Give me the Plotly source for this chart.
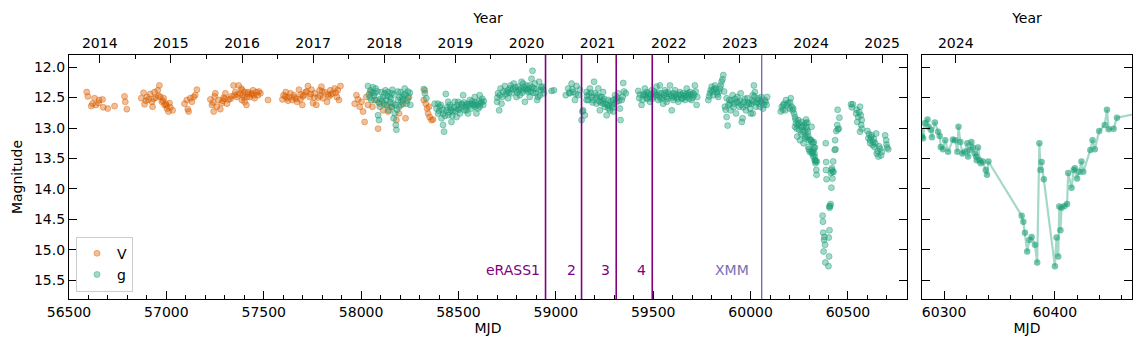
import numpy as np
import plotly.graph_objects as go

# ---- V band (ASAS-SN) ----
v14_mjd = [56591, 56597, 56614, 56621, 56631, 56638, 56652, 56655, 56672, 56676, 56699, 56734, 56785, 56789, 56797]
v14_mag = [12.41, 12.48, 12.64, 12.60, 12.51, 12.62, 12.59, 12.54, 12.53, 12.66, 12.68, 12.64, 12.48, 12.57, 12.69]

v15_mjd = [56871, 56883, 56888, 56895, 56900, 56909, 56917, 56926, 56929, 56935, 56939, 56946, 56956, 56960, 56964,
           56969, 56977, 56982, 56986, 56991, 56997, 57000, 57003, 57011, 57016, 57020, 57032,
           57093, 57105, 57110, 57114, 57123, 57131, 57140, 57148, 57157]
v15_mag = [12.51, 12.42, 12.61, 12.55, 12.49, 12.53, 12.44, 12.57, 12.65, 12.52, 12.41, 12.50, 12.38, 12.47, 12.30,
           12.49, 12.57, 12.55, 12.51, 12.62, 12.60, 12.63, 12.68, 12.73, 12.59, 12.66, 12.71,
           12.60, 12.54, 12.69, 12.73, 12.51, 12.57, 12.49, 12.46, 12.37]

v16_mjd = [57226, 57234, 57240, 57243, 57248, 57251, 57259, 57268, 57277, 57285, 57290, 57294, 57300, 57303, 57311,
           57320, 57330, 57333, 57345, 57350, 57354, 57362, 57365, 57371, 57380, 57385, 57388, 57390, 57393, 57398,
           57402, 57402, 57411, 57414, 57419, 57420, 57428, 57436, 57440, 57445, 57450, 57453, 57462, 57470, 57475,
           57483, 57522]
v16_mag = [12.53, 12.62, 12.58, 12.73, 12.48, 12.43, 12.65, 12.54, 12.69, 12.59, 12.55, 12.50, 12.52, 12.43, 12.60,
           12.53, 12.52, 12.48, 12.30, 12.46, 12.41, 12.49, 12.45, 12.30, 12.43, 12.35, 12.54, 12.38, 12.46, 12.50,
           12.41, 12.57, 12.62, 12.49, 12.41, 12.44, 12.49, 12.43, 12.45, 12.38, 12.46, 12.51, 12.41, 12.46, 12.40,
           12.43, 12.54]

v17_mjd = [57596, 57602, 57610, 57613, 57619, 57625, 57630, 57637, 57647, 57655, 57659, 57665, 57671, 57681, 57688,
           57690, 57698, 57700, 57705, 57715, 57720, 57727, 57736, 57740, 57745, 57753, 57760, 57762, 57770, 57779,
           57787, 57790, 57796, 57800, 57804, 57813, 57825, 57830, 57835, 57842, 57845, 57853, 57864, 57870, 57876,
           57880, 57886, 57894]
v17_mag = [12.53, 12.46, 12.48, 12.41, 12.51, 12.55, 12.49, 12.43, 12.54, 12.46, 12.50, 12.52, 12.57, 12.37, 12.53,
           12.45, 12.62, 12.48, 12.46, 12.41, 12.40, 12.31, 12.49, 12.44, 12.37, 12.59, 12.50, 12.43, 12.62, 12.50,
           12.38, 12.47, 12.32, 12.40, 12.51, 12.41, 12.57, 12.45, 12.48, 12.38, 12.45, 12.43, 12.35, 12.42, 12.49,
           12.38, 12.54, 12.31]

v18_mjd = [57967, 57976, 57984, 57993, 58002, 58010, 58018, 58027, 58035, 58048, 58058, 58070, 58087, 58096, 58113,
           58126, 58138, 58156, 58181, 58195, 58215, 58228, 58241,
           58322, 58327, 58332, 58339, 58344, 58349, 58352, 58361, 58369]
v18_mag = [12.60, 12.46, 12.53, 12.65, 12.57, 12.73, 12.90, 12.49, 12.62, 12.41, 12.65, 12.54, 13.01, 12.60, 12.71,
           12.62, 12.73, 12.65, 12.87, 12.76, 12.60, 12.84, 12.51,
           12.54, 12.38, 12.60, 12.68, 12.76, 12.65, 12.82, 12.87, 12.86]

# ---- g band (ASAS-SN) ----
g18_mjd = [58035, 58040, 58045, 58048, 58053, 58058, 58061, 58066, 58070, 58075, 58079, 58083, 58087, 58090, 58092,
           58096, 58100, 58104, 58108, 58113, 58118, 58121, 58125, 58130, 58133, 58135, 58138, 58143, 58147, 58150,
           58152, 58156, 58158, 58160, 58164, 58167, 58170, 58173, 58176, 58178, 58181, 58185, 58188, 58190, 58195,
           58198, 58202, 58205, 58208, 58212, 58215, 58218, 58224, 58228, 58233, 58236, 58240, 58246, 58250, 58253]
g18_mag = [12.31, 12.45, 12.50, 12.38, 12.54, 12.42, 12.33, 12.47, 12.43, 12.35, 12.54, 12.40, 12.79, 12.58, 12.87,
           12.65, 12.52, 12.41, 12.55, 12.49, 12.60, 12.43, 12.38, 12.54, 12.62, 12.47, 12.41, 12.71, 12.49, 12.58,
           12.52, 12.43, 12.66, 12.37, 12.60, 12.84, 12.45, 12.76, 12.62, 12.95, 13.03, 12.70, 12.40, 12.54, 12.65,
           12.50, 12.41, 12.62, 12.56, 12.49, 12.53, 12.45, 12.35, 12.45, 12.60, 12.55, 12.40, 12.49, 12.42, 12.62]

g19_mjd = [58322, 58327, 58335, 58378, 58387, 58395, 58395, 58400, 58404, 58410, 58413, 58418, 58421, 58421, 58426,
           58430, 58435, 58438, 58442, 58447, 58447, 58452, 58455, 58460, 58464, 58464, 58468, 58472, 58477, 58481,
           58485, 58490, 58494, 58498, 58498, 58503, 58507, 58511, 58515, 58520, 58524, 58528, 58532, 58537, 58541,
           58541, 58545, 58549, 58553, 58558, 58562, 58567, 58571, 58575, 58580, 58584, 58584, 58588, 58592, 58596,
           58601, 58605, 58609, 58609, 58613, 58618, 58622, 58627, 58630]
g19_mag = [12.36, 12.43, 12.51, 12.60, 12.68, 12.76, 12.60, 12.72, 12.65, 12.62, 12.84, 12.70, 12.95, 12.76, 13.06,
           12.80, 12.44, 12.71, 12.66, 12.79, 12.57, 12.74, 12.62, 12.66, 12.90, 12.71, 12.80, 12.73, 12.66, 12.57,
           12.72, 12.82, 12.62, 12.68, 12.57, 12.70, 12.76, 12.66, 12.60, 12.62, 12.46, 12.58, 12.71, 12.66, 12.62,
           12.71, 12.60, 12.76, 12.64, 12.54, 12.60, 12.68, 12.56, 12.60, 12.62, 12.49, 12.65, 12.58, 12.76, 12.62,
           12.68, 12.56, 12.46, 12.65, 12.60, 12.57, 12.52, 12.62, 12.56]

g20_mjd = [58698, 58700, 58703, 58709, 58712, 58716, 58721, 58726, 58730, 58738, 58742, 58747, 58755, 58755, 58760,
           58764, 58768, 58773, 58778, 58784, 58790, 58795, 58798, 58802, 58806, 58810, 58815, 58820, 58824, 58828,
           58832, 58832, 58836, 58841, 58845, 58849, 58853, 58858, 58862, 58866, 58866, 58870, 58875, 58878, 58880,
           58884, 58887, 58892, 58897, 58900, 58904, 58909, 58914, 58918, 58921, 58925, 58932, 58935, 58938]
g20_mag = [12.57, 12.50, 12.43, 12.71, 12.46, 12.35, 12.60, 12.49, 12.40, 12.31, 12.45, 12.41, 12.51, 12.38, 12.42,
           12.35, 12.30, 12.43, 12.36, 12.27, 12.33, 12.38, 12.49, 12.42, 12.32, 12.38, 12.46, 12.35, 12.24, 12.42,
           12.38, 12.27, 12.33, 12.57, 12.36, 12.30, 12.38, 12.41, 12.35, 12.49, 12.30, 12.40, 12.19, 12.33, 12.06,
           12.42, 12.35, 12.27, 12.43, 12.36, 12.54, 12.49, 12.24, 12.46, 12.38, 12.33, 12.32, 12.37, 12.43]

g21_mjd = [58978, 58990, 59051, 59063, 59068, 59072, 59081, 59085, 59089, 59098, 59102, 59106, 59115, 59123, 59132,
           59136, 59140, 59149, 59158, 59158, 59160, 59166, 59170, 59175, 59180, 59184, 59188, 59192, 59196, 59201,
           59205, 59209, 59213, 59218, 59222, 59226, 59226, 59230, 59235, 59239, 59243, 59243, 59248, 59252, 59256,
           59261, 59265, 59269, 59269, 59273, 59278, 59282, 59287, 59290, 59295, 59295, 59300, 59304, 59308, 59312,
           59316, 59321, 59325, 59329, 59332, 59338, 59343, 59346, 59350, 59359]
g21_mag = [12.39, 12.38, 12.46, 12.35, 12.42, 12.43, 12.27, 12.36, 12.41, 12.54, 12.44, 12.31, 12.46, 12.37, 12.87,
           12.73, 12.71, 12.79, 12.54, 12.41, 12.47, 12.54, 12.45, 12.35, 12.42, 12.49, 12.58, 12.54, 12.24, 12.43,
           12.50, 12.60, 12.46, 12.35, 12.56, 12.71, 12.49, 12.58, 12.49, 12.55, 12.60, 12.41, 12.52, 12.65, 12.60,
           12.79, 12.62, 12.54, 12.68, 12.64, 12.71, 12.56, 12.62, 12.66, 12.73, 12.54, 12.60, 12.46, 12.52, 12.57,
           12.50, 12.43, 12.55, 12.68, 12.87, 12.54, 12.49, 12.26, 12.40, 12.43]

g22_mjd = [59423, 59428, 59432, 59440, 59445, 59449, 59453, 59457, 59462, 59466, 59466, 59470, 59474, 59478, 59483,
           59488, 59492, 59496, 59500, 59505, 59509, 59513, 59517, 59521, 59526, 59530, 59534, 59534, 59538, 59543,
           59547, 59551, 59556, 59560, 59564, 59569, 59569, 59573, 59577, 59582, 59586, 59590, 59595, 59599, 59603,
           59603, 59608, 59612, 59616, 59620, 59625, 59629, 59633, 59637, 59641, 59646, 59650, 59654, 59658, 59663,
           59667, 59672, 59672, 59676, 59680, 59685, 59689, 59693, 59697, 59702, 59706, 59710, 59714, 59718, 59723,
           59726]
g22_mag = [12.39, 12.51, 12.45, 12.62, 12.54, 12.46, 12.44, 12.35, 12.46, 12.51, 12.41, 12.52, 12.43, 12.48, 12.57,
           12.45, 12.38, 12.52, 12.49, 12.40, 12.43, 12.46, 12.32, 12.45, 12.54, 12.42, 12.30, 12.49, 12.52, 12.43,
           12.50, 12.60, 12.46, 12.38, 12.42, 12.49, 12.57, 12.52, 12.41, 12.44, 12.30, 12.47, 12.71, 12.50, 12.54,
           12.43, 12.48, 12.38, 12.44, 12.49, 12.52, 12.57, 12.46, 12.41, 12.45, 12.51, 12.52, 12.43, 12.48, 12.54,
           12.45, 12.35, 12.49, 12.43, 12.46, 12.52, 12.41, 12.45, 12.54, 12.50, 12.43, 12.46, 12.30, 12.40, 12.62,
           12.49]

g23_mjd = [59783, 59787, 59791, 59795, 59800, 59804, 59808, 59812, 59817, 59821, 59826, 59830, 59834, 59838, 59843,
           59847, 59851, 59856, 59860, 59864, 59868, 59872, 59877, 59877, 59882, 59886, 59891, 59894, 59897, 59902,
           59908, 59912, 59915, 59920, 59925, 59928, 59932, 59936, 59942, 59946, 59949, 59952, 59955, 59959, 59962,
           59966, 59970, 59976, 59979, 59983, 59986, 59993, 59997, 60001, 60005, 60008, 60011, 60011, 60013, 60017,
           60020, 60022, 60027, 60031, 60039, 60039, 60043, 60047, 60051, 60056, 60060, 60064, 60068, 60073, 60077,
           60082, 60085]
g23_mag = [12.54, 12.48, 12.43, 12.38, 12.32, 12.40, 12.46, 12.36, 12.30, 12.35, 12.41, 12.45, 12.49, 12.40, 12.35,
           12.30, 12.24, 12.20, 12.13, 12.40, 12.65, 12.70, 12.82, 12.51, 12.96, 12.62, 12.54, 12.60, 12.71, 12.55,
           12.46, 12.66, 12.60, 12.52, 12.76, 12.57, 12.49, 12.58, 12.65, 12.55, 12.43, 12.62, 12.90, 12.84, 12.66,
           12.57, 12.52, 12.71, 12.62, 12.51, 12.58, 12.60, 12.68, 12.76, 12.60, 12.55, 12.46, 12.76, 12.57, 12.30,
           12.48, 12.41, 12.65, 12.58, 12.54, 12.51, 12.60, 12.65, 12.56, 12.49, 12.58, 12.68, 12.62, 12.54, 12.57,
           12.62, 12.49]

g24_mjd = [60155, 60160, 60165, 60168, 60172, 60178, 60182, 60188, 60194, 60200, 60203, 60206, 60211, 60216, 60219,
           60223, 60228, 60228, 60231, 60233, 60237, 60240, 60242, 60245, 60248, 60250, 60254, 60257, 60260, 60263,
           60266, 60268, 60272, 60275, 60278, 60280,
           60281, 60282.6, 60285, 60286, 60288, 60289, 60291.6, 60294.6, 60296, 60297, 60299, 60301, 60303.6, 60308,
           60310, 60312, 60313, 60314.7, 60316.5, 60318.7, 60321, 60321.6, 60323, 60324.6, 60326, 60327.6, 60329,
           60329.5, 60330.6, 60332, 60333, 60335, 60337.6, 60338.7, 60340,
           60370, 60371.5, 60373, 60375, 60377, 60379, 60382, 60384, 60386, 60387, 60388, 60390,
           60400, 60401.5, 60403, 60404, 60405, 60406, 60408.7, 60411, 60412, 60415, 60417, 60418, 60420, 60422,
           60424, 60425.6, 60432, 60434, 60436, 60440, 60445, 60447, 60448.6, 60453, 60456]
g24_mag = [12.73, 12.65, 12.70, 12.62, 12.60, 12.71, 12.54, 12.62, 12.59, 12.68, 12.58, 12.51, 12.65, 12.71, 12.68,
           12.76, 12.82, 12.98, 12.86, 12.92, 13.01, 13.14, 12.95, 12.87, 12.92, 13.03, 13.20, 12.98, 13.10, 12.90,
           12.98, 13.06, 13.25, 12.95, 13.05, 13.14,
           13.17, 12.92, 12.86, 12.98, 13.03, 13.15, 12.91, 13.06, 13.13, 13.31, 13.35, 13.20, 13.39, 13.19,
           13.20, 13.39, 12.98, 13.23, 13.42, 13.39, 13.25, 13.47, 13.36, 13.23, 13.32, 13.42, 13.47,
           13.53, 13.32, 13.53, 13.58, 13.55, 13.69, 13.77, 13.55,
           14.44, 14.54, 14.72, 15.03, 14.84, 14.79, 14.92, 15.21, 13.25, 13.69, 13.56, 13.84,
           15.27, 14.80, 15.11, 14.29, 14.68, 14.31, 14.28, 14.25, 13.74, 13.98, 13.69, 13.66, 13.83, 13.72,
           13.55, 13.72, 13.36, 13.20, 13.35, 13.05, 12.95, 12.70, 13.02, 13.01, 12.83]

g25_mjd = [60516, 60520, 60525, 60542, 60545, 60548, 60553, 60558, 60562, 60562, 60566, 60568, 60571, 60571, 60600,
           60605, 60608, 60614, 60614, 60618, 60622, 60627, 60631, 60633, 60636, 60640, 60645, 60648, 60652, 60656,
           60660, 60665, 60670, 60674, 60691, 60696, 60698, 60701, 60707]
g25_mag = [12.61, 12.66, 12.61, 12.76, 12.70, 12.90, 12.82, 12.74, 12.65, 13.06, 12.79, 12.95, 12.87, 13.01, 13.05,
           13.17, 13.10, 13.20, 13.25, 13.15, 13.12, 13.28, 13.23, 13.18, 13.31, 13.25, 13.09, 13.42, 13.38, 13.47,
           13.30, 13.34, 13.45, 13.39, 13.12, 13.20, 13.27, 13.32, 13.35]

# ---- X-ray epochs ----
erass_mjd = [58947, 59132, 59310, 59495]
erass_labels = ["eRASS1", "2", "3", "4"]
xmm_mjd = 60057
label_mag = 15.33

V_COL = (217, 95, 2)
G_COL = (27, 158, 119)
FONT = "DejaVu Sans"


def rgba(c, a):
    return "rgba(%d,%d,%d,%.2f)" % (c[0], c[1], c[2], a)


def mjd_to_year(m):
    return 2000.0 + (m - 51544.5) / 365.25


v_mjd = np.concatenate([v14_mjd, v15_mjd, v16_mjd, v17_mjd, v18_mjd])
v_mag = np.concatenate([v14_mag, v15_mag, v16_mag, v17_mag, v18_mag])
g_mjd = np.concatenate([g18_mjd, g19_mjd, g20_mjd, g21_mjd, g22_mjd, g23_mjd, g24_mjd, g25_mjd])
g_mag = np.concatenate([g18_mag, g19_mag, g20_mag, g21_mag, g22_mag, g23_mag, g24_mag, g25_mag])
order = np.argsort(g_mjd, kind="stable")
g_mjd, g_mag = g_mjd[order], g_mag[order]

left_range = [56500, 60803]
right_range = [60280, 60469.6]
y_range = [15.81, 11.8]

fig = go.Figure()

fig.add_trace(go.Scatter(
    x=v_mjd, y=v_mag, mode="markers", name="V",
    marker=dict(size=6, color=rgba(V_COL, 0.4), line=dict(width=1, color=rgba(V_COL, 0.42)))
))
fig.add_trace(go.Scatter(
    x=g_mjd, y=g_mag, mode="markers", name="g",
    marker=dict(size=6, color=rgba(G_COL, 0.4), line=dict(width=1, color=rgba(G_COL, 0.42)))
))
# zoomed panel
fig.add_trace(go.Scatter(
    x=g_mjd, y=g_mag, mode="lines+markers", showlegend=False, xaxis="x2", yaxis="y2",
    line=dict(color=rgba(G_COL, 0.4), width=2.2),
    marker=dict(size=6.5, color=rgba(G_COL, 0.6))
))
# empty traces so that the year axes get drawn
fig.add_trace(go.Scatter(x=[], y=[], xaxis="x3", yaxis="y", showlegend=False))
fig.add_trace(go.Scatter(x=[], y=[], xaxis="x4", yaxis="y2", showlegend=False))

for m, lab in zip(erass_mjd, erass_labels):
    fig.add_shape(type="line", xref="x", yref="y domain", x0=m, x1=m, y0=0, y1=1,
                  line=dict(color="purple", width=1.6))
    fig.add_annotation(x=m, y=label_mag, xref="x", yref="y", text=lab, showarrow=False,
                       xanchor="right", xshift=-4, font=dict(family=FONT, size=14, color="purple"))
fig.add_shape(type="line", xref="x", yref="y domain", x0=xmm_mjd, x1=xmm_mjd, y0=0, y1=1,
              line=dict(color="#7570b3", width=1.4))
fig.add_annotation(x=xmm_mjd, y=label_mag, xref="x", yref="y", text="XMM", showarrow=False,
                   xanchor="right", xshift=-11, font=dict(family=FONT, size=14, color="#7570b3"))

axis_common = dict(showline=True, linecolor="black", linewidth=1.2, ticks="inside", ticklen=8,
                   tickwidth=1.2, tickcolor="black", showgrid=False, zeroline=False, automargin=False,
                   tickfont=dict(family=FONT, size=14, color="black"))
minor = lambda d: dict(dtick=d, ticks="inside", ticklen=4, tickwidth=1, tickcolor="black", showgrid=False)

dom_left = [0, 0.7883]
dom_right = [0.8024, 1]

# the page body adds an 8 px offset, so the figure is 8 px smaller on each axis
fig.update_layout(
    width=1134, height=342,
    margin=dict(l=61, r=10, t=47, b=51),
    plot_bgcolor="white", paper_bgcolor="white",
    font=dict(family=FONT, size=14, color="black"),
    xaxis=dict(axis_common, domain=dom_left, range=left_range, tick0=56500, dtick=500, mirror=True,
               tickformat="d", minor=minor(100), title=dict(text="MJD", standoff=3, font=dict(size=14))),
    xaxis2=dict(axis_common, domain=dom_right, anchor="y2", range=right_range, tick0=60300, dtick=100,
                tickformat="d", mirror=True, minor=minor(20),
                title=dict(text="MJD", standoff=3, font=dict(size=14))),
    xaxis3=dict(axis_common, overlaying="x", side="top", anchor="y",
                range=[mjd_to_year(left_range[0]), mjd_to_year(left_range[1])], tickformat="d",
                tick0=2014, dtick=1, minor=minor(0.5), title=dict(text="Year", standoff=8, font=dict(size=14))),
    xaxis4=dict(axis_common, overlaying="x2", side="top", anchor="y2",
                range=[mjd_to_year(right_range[0]), mjd_to_year(right_range[1])], tickformat="d",
                tick0=2024, dtick=1, minor=minor(0.5), title=dict(text="Year", standoff=8, font=dict(size=14))),
    yaxis=dict(axis_common, anchor="x", range=y_range, tick0=12, dtick=0.5, tickformat=".1f", mirror="ticks",
               title=dict(text="Magnitude", standoff=8, font=dict(size=14))),
    yaxis2=dict(axis_common, anchor="x2", range=y_range, tick0=12, dtick=0.5, mirror="ticks",
                showticklabels=False),
    legend=dict(x=0.0066, y=0.03, xanchor="left", yanchor="bottom", bgcolor="rgba(255,255,255,0.8)",
                bordercolor="#cccccc", borderwidth=1, font=dict(family=FONT, size=14), itemwidth=30,
                tracegroupgap=0),
    showlegend=True,
)

fig.write_html("out.html")
